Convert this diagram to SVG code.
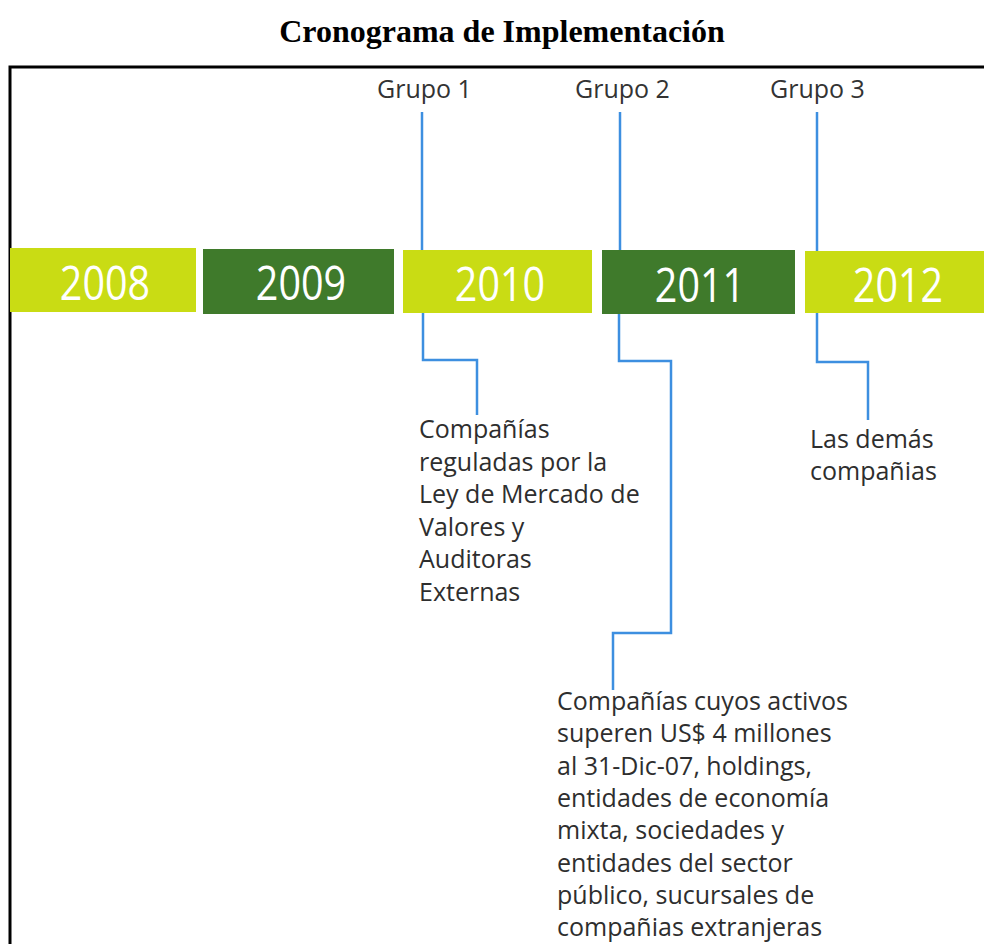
<svg xmlns="http://www.w3.org/2000/svg" width="984" height="944" viewBox="0 0 984 944">
<style>
.title{font-family:"Liberation Serif",serif;font-weight:bold;font-size:32px;fill:#000}
.yr{font-family:"Open Sans","Noto Sans",sans-serif;font-size:47px;fill:#fff;text-anchor:middle}
.lite{fill:#c9dc14}
.dark{fill:#3f7a2b}
.grp{font-family:"Open Sans","Noto Sans",sans-serif;font-size:25px;fill:#333}
.txt{font-family:"Open Sans","Noto Sans",sans-serif;font-size:25px;fill:#2e2e2e}
.conn{fill:none;stroke:#3d8fe0;stroke-width:2.5}
</style>
<rect width="984" height="944" fill="#fff"/>
<text class="title" x="502" y="42" text-anchor="middle">Cronograma de Implementación</text>
<path d="M10 944 V67 H984" fill="none" stroke="#000" stroke-width="3"/>
<g id="connectors">
<path class="conn" d="M422 112 V250"/>
<path class="conn" d="M620 112 V250"/>
<path class="conn" d="M817 112 V251"/>
<path class="conn" d="M423 312 V360 H477 V415"/>
<path class="conn" d="M619 314 V361 H671 V633 H613 V690"/>
<path class="conn" d="M817 312 V362 H868 V420"/>
</g>
<g id="y2008"><rect class="lite" x="10" y="248" width="186" height="64"/><text class="yr" transform="translate(105 300) scale(0.84 1)">2008</text></g>
<g id="y2009"><rect class="dark" x="203" y="249" width="191" height="65"/><text class="yr" transform="translate(301 300) scale(0.84 1)">2009</text></g>
<g id="y2010"><rect class="lite" x="403" y="250" width="189" height="63"/><text class="yr" transform="translate(500 301) scale(0.84 1)">2010</text></g>
<g id="y2011"><rect class="dark" x="602" y="250" width="193" height="64"/><text class="yr" transform="translate(700 302) scale(0.84 1)">2011</text></g>
<g id="y2012"><rect class="lite" x="805" y="251" width="179" height="62"/><text class="yr" transform="translate(898 302) scale(0.84 1)">2012</text></g>
<g id="g1"><text class="grp" x="377" y="98">Grupo 1</text></g>
<g id="g2"><text class="grp" x="575" y="98">Grupo 2</text></g>
<g id="g3"><text class="grp" x="770" y="98">Grupo 3</text></g>
<g id="t1"><text class="txt" x="419" y="438">Compañías<tspan x="419" dy="32.5">reguladas por la</tspan><tspan x="419" dy="32.5">Ley de Mercado de</tspan><tspan x="419" dy="32.5">Valores y</tspan><tspan x="419" dy="32.5">Auditoras</tspan><tspan x="419" dy="32.5">Externas</tspan></text></g>
<g id="t3"><text class="txt" x="810" y="448">Las demás<tspan x="810" dy="32">compañias</tspan></text></g>
<g id="t2"><text class="txt" x="557" y="710">Compañías cuyos activos<tspan x="557" dy="32.3">superen US$ 4 millones</tspan><tspan x="557" dy="32.3">al 31-Dic-07, holdings,</tspan><tspan x="557" dy="32.3">entidades de economía</tspan><tspan x="557" dy="32.3">mixta, sociedades y</tspan><tspan x="557" dy="32.3">entidades del sector</tspan><tspan x="557" dy="32.3">público, sucursales de</tspan><tspan x="557" dy="32.3">compañias extranjeras</tspan></text></g>
</svg>
